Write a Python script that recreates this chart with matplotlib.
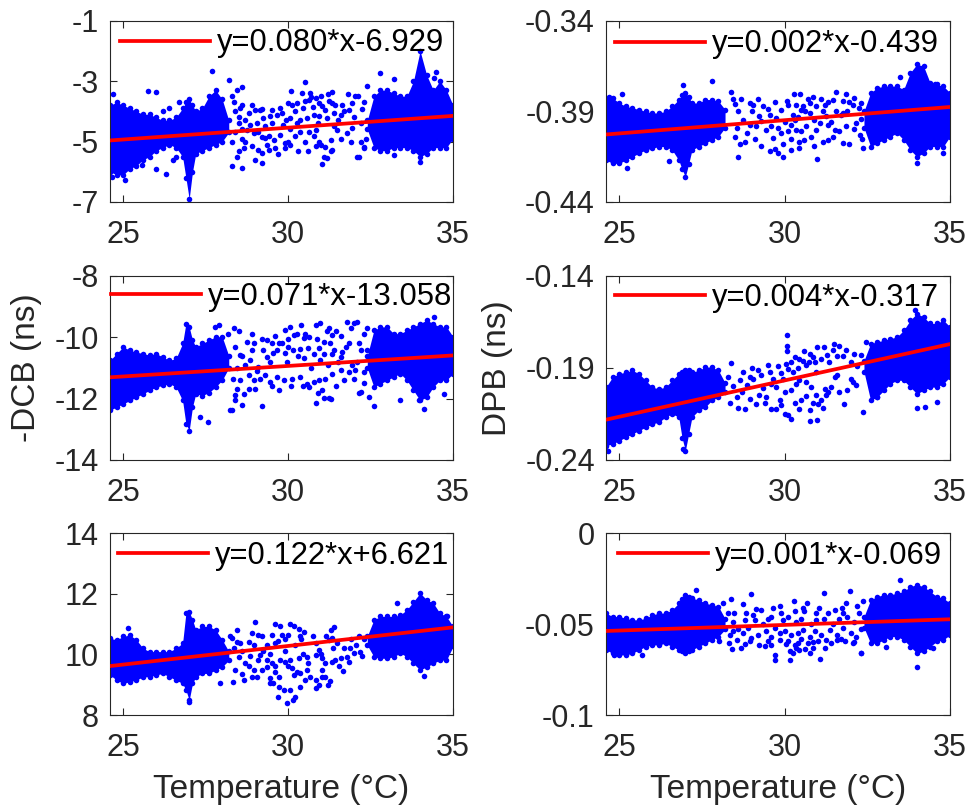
import numpy as np
import matplotlib
matplotlib.use('Agg')
import matplotlib.pyplot as plt

plt.rcParams['font.family'] = ['Liberation Sans', 'DejaVu Sans']

# temperature axis
temp_ticks = [25, 30, 35]
temp_lim = [24.6, 35]
fit_x = [24.65, 35.0]

# x columns of the two dense clusters (cool block = first 21, warm block = rest)
band_x = [24.6, 24.8, 25.0, 25.2, 25.4, 25.6, 25.8, 26.0, 26.2, 26.4, 26.6, 26.8, 26.9, 27.0, 27.1,
          27.2, 27.4, 27.6, 27.8, 28.0, 28.2,
          32.4, 32.6, 32.8, 33.0, 33.2, 33.4, 33.6, 33.8, 34.0, 34.2, 34.4, 34.6, 34.8, 35.0]
n_cool = 21

# ---- top left ----
tl_lo = [-6.0, -6.1, -6.1, -5.9, -5.8, -5.6, -5.5, -5.3, -5.2, -5.1, -5.2, -5.5, -6.2, -6.9, -6.0,
         -5.4, -5.3, -5.2, -5.1, -5.0, -4.7,
         -4.6, -5.2, -5.3, -5.3, -5.2, -5.2, -5.2, -5.3, -5.5, -5.4, -5.2, -5.2, -5.2, -4.9]
tl_hi = [-3.8, -3.7, -3.8, -3.9, -4.0, -4.1, -4.1, -4.2, -4.3, -4.3, -4.2, -3.9, -3.7, -3.6, -3.8,
         -4.0, -3.9, -3.5, -3.3, -3.6, -4.3,
         -4.3, -3.5, -3.3, -3.3, -3.4, -3.5, -3.5, -3.0, -2.0, -2.8, -3.3, -3.0, -3.3, -3.8]
tl_px = [27.70, 28.21, 30.50, 30.10, 30.42, 30.67, 30.70, 31.21, 31.33, 31.81, 32.02, 32.12, 32.40,
         29.15, 29.20, 29.51, 29.76, 29.99, 30.12, 30.27, 30.52, 30.62, 30.83, 30.93, 31.03, 31.13, 31.33, 31.43, 31.64, 31.84, 31.94, 32.24,
         28.80, 29.00, 29.25, 29.46, 29.66, 29.81, 30.07, 30.27, 30.37, 30.57, 30.77, 30.93, 31.18, 31.38, 31.59, 31.94, 31.48, 31.79,
         28.75, 28.95, 29.10, 29.31, 29.41, 29.56, 29.76, 29.91, 30.01, 30.22, 30.37, 30.62, 30.77, 30.93, 31.00, 31.13, 31.30, 31.33, 30.83, 30.07,
         28.65, 29.10, 29.20, 29.41, 29.91, 30.60, 30.83, 31.10, 31.18, 31.30, 32.09, 29.00, 29.20, 28.60, 31.03, 32.29,
         24.70, 32.80, 33.20, 34.47, 34.00, 25.74, 26.00, 34.42, 32.14, 32.30, 33.20, 25.05, 24.65, 26.29, 26.00, 25.56,
         26.20, 26.40, 26.60, 26.50, 26.70, 28.30, 28.40, 28.50, 28.30, 28.50, 28.40, 28.60, 28.60,
         28.55, 28.70, 28.85, 28.60, 28.90, 29.05, 28.70, 28.45, 29.30, 29.50, 29.60, 29.85, 30.20, 30.45,
         30.75, 31.00, 31.25, 31.50, 31.70, 32.00, 32.20, 32.30, 32.35, 32.20, 31.90, 31.60, 30.50, 30.30,
         29.70, 29.35, 28.90, 30.90, 31.40, 30.05, 29.95, 29.20, 28.50, 28.35, 28.45, 28.60, 28.30]
tl_py = [-2.67, -2.98, -3.03, -3.33, -3.41, -3.39, -3.52, -3.42, -3.37, -3.44, -3.50, -3.48, -3.17,
         -3.94, -3.92, -3.94, -3.89, -3.72, -3.78, -3.72, -3.67, -3.61, -3.55, -3.72, -3.83, -3.94, -3.72, -3.78, -3.78, -3.94, -3.72, -3.92,
         -4.05, -3.94, -4.22, -4.17, -4.11, -4.05, -4.22, -4.39, -4.28, -4.22, -4.11, -4.17, -4.22, -4.05, -4.11, -4.55, -4.61, -4.72,
         -4.61, -4.72, -4.67, -4.89, -4.83, -4.94, -4.78, -5.05, -5.00, -4.83, -4.67, -4.67, -4.83, -5.00, -5.11, -5.17, -4.94, -5.28, -4.61, -5.11,
         -5.22, -5.28, -5.39, -5.28, -5.22, -5.31, -5.14, -5.50, -5.55, -5.30, -5.52, -5.61, -5.72, -5.89, -5.74, -5.17,
         -3.42, -2.72, -2.94, -2.70, -5.67, -3.33, -3.37, -2.89, -5.50, -5.22, -5.44, -6.28, -6.17, -6.08, -5.90, -5.78,
         -4.00, -3.90, -5.50, -5.60, -3.70, -3.50, -4.00, -4.40, -5.00, -5.30, -4.70, -3.80, -4.90,
         -3.90, -4.30, -4.45, -4.60, -3.80, -4.40, -5.00, -5.50, -4.50, -4.40, -5.20, -4.45, -4.00, -3.90,
         -3.85, -3.50, -3.65, -4.30, -4.00, -4.20, -4.40, -3.70, -4.90, -5.00, -5.00, -4.90, -5.00, -5.30,
         -5.40, -5.10, -5.15, -4.40, -4.50, -4.60, -4.30, -4.85, -4.20, -3.70, -3.30, -3.20, -5.80]
tl_fit = [-4.96, -4.15]
tl_eq = 'y=0.080*x-6.929'
tl_yticks = [-7, -5, -3, -1]

# ---- top right ----
tr_lo = [-0.4169, -0.4187, -0.4187, -0.4169, -0.4150, -0.4131, -0.4113, -0.4104, -0.4094, -0.4094, -0.4113, -0.4169, -0.4220, -0.4261, -0.4190,
         -0.4113, -0.4094, -0.4076, -0.4057, -0.4039, -0.3990,
         -0.3990, -0.4094, -0.4076, -0.4057, -0.4039, -0.4020, -0.4057, -0.4113, -0.4150, -0.4131, -0.4094, -0.4094, -0.4094, -0.4039]
tr_hi = [-0.3835, -0.3826, -0.3854, -0.3872, -0.3881, -0.3890, -0.3900, -0.3909, -0.3909, -0.3900, -0.3872, -0.3835, -0.3810, -0.3798, -0.3820,
         -0.3854, -0.3854, -0.3835, -0.3835, -0.3844, -0.3890,
         -0.3900, -0.3798, -0.3770, -0.3761, -0.3761, -0.3761, -0.3780, -0.3687, -0.3641, -0.3650, -0.3743, -0.3752, -0.3761, -0.3798]
tr_px = [28.69, 28.94, 29.04, 29.49, 29.90, 30.08, 30.10, 30.35, 30.50, 30.61, 30.76, 30.96, 31.21, 31.31, 31.46, 31.77, 32.07, 32.32, 31.56,
         28.94, 29.14, 29.29, 29.44, 29.60, 29.80, 29.90, 30.10, 30.20, 30.35, 30.50, 30.66, 30.81, 30.96, 31.06, 31.31, 31.52, 31.87, 32.17, 32.27,
         28.79, 29.29, 29.70, 29.80, 29.95, 30.20, 30.45, 30.45, 30.20, 28.59, 30.98, 31.16, 31.31, 31.77, 32.37,
         27.80, 28.38, 30.28, 30.48, 31.56, 31.87, 32.09, 30.71,
         29.24, 29.75, 30.25, 30.76, 31.26, 31.77,
         26.92, 25.25, 26.52, 24.68, 25.08, 34.78, 33.99, 33.48, 34.55,
         28.50, 28.60, 28.75, 28.55, 28.85, 28.65, 29.00, 29.10, 29.35, 29.55, 29.65, 30.00, 30.30,
         30.55, 30.90, 31.15, 31.40, 31.65, 31.90, 32.10, 32.25, 32.35, 31.95, 31.45, 30.90, 30.60,
         29.55, 29.20, 29.70, 30.85, 31.10, 31.70, 28.45, 28.50, 30.40, 29.95, 31.95, 32.30]
tr_py = [-0.3832, -0.3854, -0.3863, -0.3885, -0.3894, -0.3844, -0.3863, -0.3863, -0.3891, -0.3900, -0.3854, -0.3872, -0.3863, -0.3850, -0.3835, -0.3844, -0.3863, -0.3854, -0.3900,
         -0.3974, -0.3983, -0.3956, -0.4002, -0.3983, -0.3993, -0.4020, -0.4011, -0.3974, -0.4002, -0.4011, -0.3983, -0.4039, -0.4002, -0.3965, -0.3974, -0.4002, -0.3983, -0.3965, -0.4030,
         -0.4067, -0.4091, -0.4109, -0.4131, -0.4150, -0.4113, -0.4104, -0.4067, -0.4054, -0.4154, -0.4163, -0.4067, -0.4057, -0.4072, -0.4104,
         -0.3733, -0.3793, -0.3807, -0.3804, -0.3793, -0.3804, -0.3826, -0.3831,
         -0.3928, -0.3937, -0.3919, -0.3910, -0.3928, -0.3910,
         -0.3757, -0.4215, -0.4172, -0.3820, -0.3802, -0.4131, -0.4183, -0.3711, -0.3752,
         -0.3860, -0.3900, -0.3950, -0.3990, -0.4020, -0.4080, -0.3900, -0.4050, -0.3870, -0.3920, -0.4045, -0.3960, -0.3950,
         -0.3870, -0.3950, -0.3900, -0.3960, -0.4010, -0.3900, -0.4000, -0.3880, -0.4050, -0.4080, -0.4040, -0.4090, -0.4060,
         -0.4120, -0.3830, -0.3850, -0.3820, -0.3830, -0.3920, -0.3830, -0.4040, -0.3930, -0.4080, -0.3850, -0.3940]
tr_fit = [-0.4027, -0.3876]
tr_eq = 'y=0.002*x-0.439'
tr_yticks = [-0.44, -0.39, -0.34]

# ---- middle left (-DCB) ----
ml_lo = [-12.38, -12.27, -12.17, -12.06, -11.95, -11.84, -11.73, -11.62, -11.57, -11.51, -11.62, -12.06, -12.82, -13.04, -12.27,
         -11.84, -11.90, -11.80, -11.62, -11.40, -11.00,
         -11.00, -11.62, -11.51, -11.40, -11.29, -11.18, -11.40, -11.73, -12.06, -11.95, -11.62, -11.40, -11.40, -11.18]
ml_hi = [-10.75, -10.53, -10.31, -10.42, -10.48, -10.53, -10.58, -10.53, -10.64, -10.75, -10.69, -10.20, -9.55, -9.66, -10.09,
         -10.31, -10.20, -10.09, -9.98, -9.98, -10.60,
         -10.60, -9.77, -9.66, -9.66, -9.88, -9.88, -9.77, -9.66, -9.55, -9.44, -9.55, -9.66, -9.66, -9.98]
ml_px = [27.89, 27.79, 28.50, 28.19, 30.07, 30.83, 30.98, 31.79, 32.01, 32.09, 32.40, 31.18, 31.23,
         28.75, 28.95, 29.20, 29.36, 29.51, 29.71, 29.81, 30.01, 30.17, 30.27, 30.47, 30.52, 30.62, 30.88, 31.08, 31.28, 31.59, 31.33,
         30.37, 29.66, 30.01, 30.77, 31.08, 31.33, 31.64, 31.84, 32.14, 32.40,
         28.34, 28.55, 28.80, 28.95, 29.15, 29.31, 29.46, 29.66, 29.86, 30.12, 30.37, 30.57, 30.77, 30.93, 31.13, 31.33, 31.59, 31.84, 32.04, 32.29,
         29.71, 28.80, 28.44, 28.65, 30.62, 31.03, 31.99, 28.39, 28.39, 28.29, 29.20, 30.83, 31.10, 31.23, 31.30,
         28.85, 29.36, 29.96, 30.47, 30.98, 31.59, 32.09, 28.55, 29.10,
         34.42, 33.97, 34.12, 32.45, 32.60, 33.40, 34.73, 32.20, 28.24, 27.58, 27.33,
         28.40, 28.60, 28.70, 28.45, 28.90, 29.05, 29.25, 29.45, 29.55, 29.90, 30.15, 30.30, 30.60,
         30.70, 30.95, 31.20, 31.40, 31.50, 31.75, 31.95, 32.20, 32.30, 32.15, 31.70, 31.45, 30.90, 30.45,
         30.10, 29.50, 29.00, 28.60, 29.90, 30.40, 31.45, 29.60, 28.90, 28.35, 32.30, 31.90]
ml_py = [-9.60, -9.66, -9.80, -9.88, -9.66, -9.60, -9.53, -9.49, -9.53, -9.50, -9.68, -9.79, -9.71,
         -10.15, -10.20, -10.07, -10.09, -10.18, -10.20, -10.20, -10.04, -9.93, -9.88, -10.01, -9.88, -9.98, -10.04, -10.15, -10.20, -9.96, -9.93,
         -10.37, -10.42, -10.31, -10.53, -10.53, -10.53, -10.48, -10.20, -10.20, -10.42,
         -11.35, -11.40, -11.24, -11.40, -11.35, -11.24, -11.46, -11.31, -11.40, -11.35, -11.29, -11.51, -11.46, -11.40, -11.35, -11.18, -11.08, -11.13, -11.08, -11.13,
         -11.73, -11.67, -11.67, -11.86, -11.62, -11.71, -11.35, -11.89, -12.06, -12.36, -12.24, -12.14, -11.99, -11.99, -12.00,
         -10.75, -10.64, -10.80, -10.69, -10.75, -10.64, -10.80, -10.58, -10.97,
         -9.35, -12.06, -12.33, -11.95, -12.25, -12.06, -11.84, -11.78, -12.36, -12.77, -12.60,
         -10.30, -10.60, -10.90, -11.00, -10.40, -11.10, -10.40, -10.80, -10.50, -10.50, -10.40, -10.60, -10.35,
         -11.00, -10.35, -10.90, -10.40, -10.80, -10.30, -10.90, -10.40, -11.50, -11.80, -11.40, -11.60, -11.80, -11.60,
         -11.60, -11.60, -11.70, -12.20, -9.75, -9.60, -9.80, -9.95, -9.90, -9.70, -9.90, -9.70]
ml_fit = [-11.30, -10.59]
ml_eq = 'y=0.071*x-13.058'
ml_yticks = [-14, -12, -10, -8]

# ---- middle right (DPB) ----
mr_lo = [-0.2322, -0.2313, -0.2295, -0.2276, -0.2258, -0.2240, -0.2222, -0.2204, -0.2195, -0.2167, -0.2149, -0.2167, -0.2280, -0.2349, -0.2258,
         -0.2167, -0.2131, -0.2113, -0.2076, -0.2058, -0.2030,
         -0.1920, -0.2076, -0.2058, -0.2022, -0.1985, -0.1967, -0.1967, -0.2004, -0.2040, -0.2022, -0.2004, -0.2004, -0.1985, -0.1949]
mr_hi = [-0.2004, -0.1949, -0.1931, -0.1922, -0.1913, -0.1931, -0.1967, -0.2004, -0.2013, -0.2004, -0.1967, -0.1931, -0.1920, -0.1913, -0.1913,
         -0.1922, -0.1913, -0.1895, -0.1895, -0.1913, -0.1980,
         -0.1860, -0.1767, -0.1758, -0.1749, -0.1740, -0.1731, -0.1695, -0.1640, -0.1604, -0.1622, -0.1658, -0.1658, -0.1640, -0.1676]
mr_px = [28.38, 29.49, 29.19, 28.74, 28.94, 28.64, 29.90, 30.10, 30.20, 30.30, 30.45, 30.56, 30.66, 30.76, 30.86, 30.91, 30.98, 31.18, 31.29, 31.49, 31.57, 31.77, 32.09, 30.08, 30.08, 30.08,
         29.60, 29.75, 30.00, 30.20, 30.35, 30.45, 30.66, 30.81, 30.96, 31.21, 31.31, 31.41, 31.51,
         29.60, 29.75, 29.85, 30.00, 30.10, 30.20, 30.45, 30.50, 30.76, 30.86, 31.01, 31.11, 31.26, 31.79, 30.76, 30.98,
         32.37, 29.14, 28.79, 29.24, 29.44, 32.02, 32.07, 31.57,
         33.94, 33.99, 34.24, 34.60, 32.78, 32.47, 24.65, 26.92,
         28.30, 28.45, 28.55, 28.35, 28.70, 28.85, 28.95, 29.05, 29.30, 29.35, 29.55, 29.65, 29.80,
         29.95, 30.05, 30.25, 30.40, 30.60, 30.75, 30.95, 31.10, 31.35, 31.45, 31.65, 31.85, 32.00,
         32.20, 32.30, 32.15, 31.90, 31.65, 31.15, 30.65, 30.30, 29.90, 29.40, 28.60, 29.00]
mr_py = [-0.1873, -0.1886, -0.1909, -0.1922, -0.1949, -0.1967, -0.1927, -0.1904, -0.1867, -0.1840, -0.1849, -0.1864, -0.1886, -0.1822, -0.1840, -0.1867, -0.1786, -0.1786, -0.1831, -0.1767, -0.1836, -0.1836, -0.1822, -0.1718, -0.1782, -0.1807,
         -0.1986, -0.2004, -0.2031, -0.2022, -0.1986, -0.1967, -0.1976, -0.2004, -0.2049, -0.2013, -0.2031, -0.2004, -0.1949,
         -0.2122, -0.2122, -0.2076, -0.2149, -0.2158, -0.2176, -0.2122, -0.2076, -0.2131, -0.2091, -0.2095, -0.2076, -0.2049, -0.2098, -0.2186, -0.2182,
         -0.2140, -0.2095, -0.2122, -0.2049, -0.2058, -0.1958, -0.1976, -0.1940,
         -0.1585, -0.2116, -0.2113, -0.2085, -0.2058, -0.1758, -0.2349, -0.2340,
         -0.1950, -0.2000, -0.2060, -0.2090, -0.2030, -0.1990, -0.2070, -0.1960, -0.1940, -0.2010, -0.1920, -0.1960, -0.1890,
         -0.1960, -0.1880, -0.1920, -0.1900, -0.1810, -0.1870, -0.1920, -0.1850, -0.1870, -0.1800, -0.1780, -0.1800, -0.1870,
         -0.1890, -0.1830, -0.1990, -0.2020, -0.2030, -0.2120, -0.2050, -0.2090, -0.2100, -0.2090, -0.2120, -0.1900]
mr_fit = [-0.2179, -0.1770]
mr_eq = 'y=0.004*x-0.317'
mr_yticks = [-0.24, -0.19, -0.14]

# ---- bottom left ----
bl_lo = [9.32, 9.15, 9.04, 9.10, 9.15, 9.26, 9.26, 9.32, 9.37, 9.26, 9.15, 9.04, 8.82, 8.49, 9.04,
         9.26, 9.37, 9.37, 9.48, 9.59, 9.80,
         10.30, 9.92, 9.87, 9.87, 9.92, 10.04, 9.92, 9.70, 9.48, 9.59, 9.70, 9.81, 9.81, 10.26]
bl_hi = [10.53, 10.48, 10.59, 10.64, 10.48, 10.20, 10.09, 10.09, 10.09, 10.09, 10.20, 10.37, 11.36, 11.41, 11.14,
         10.81, 10.92, 10.92, 10.81, 10.48, 10.10,
         10.60, 11.14, 11.25, 11.25, 11.25, 11.30, 11.47, 11.74, 12.02, 11.80, 11.69, 11.36, 11.25, 10.92]
bl_px = [29.00, 29.61, 29.76, 30.06, 30.17, 30.32, 30.47, 31.31, 31.40, 28.90, 29.10, 29.20, 29.51, 29.81, 29.91, 30.01, 30.37, 28.44, 28.55, 28.80, 29.36, 29.61, 30.83, 31.23, 31.48, 31.33, 27.94, 27.89, 28.29,
         28.85, 29.15, 29.36, 29.51, 29.76, 30.07, 30.32, 30.57, 30.83, 30.93, 31.03, 31.13, 31.33, 31.43, 31.59, 31.79, 31.89, 31.99, 32.17,
         29.20, 29.36, 29.61, 28.95, 28.90, 29.05, 29.46, 29.71, 29.91, 30.12, 30.27, 30.17, 30.37, 30.57, 30.67, 30.83, 31.03, 31.03, 31.13, 31.28,
         30.83, 30.93, 29.71, 29.86, 30.07, 30.22, 30.37, 29.69, 29.46, 27.94, 28.34, 28.65, 29.98, 30.16,
         34.12, 25.15, 33.31, 34.83, 26.98,
         28.35, 28.50, 28.60, 28.70, 28.40, 28.80, 28.95, 29.10, 29.25, 29.45, 29.60, 29.90, 30.00,
         30.20, 30.45, 30.60, 30.75, 31.00, 31.15, 31.35, 31.55, 31.70, 31.85, 32.05, 32.25, 32.30,
         31.65, 31.20, 30.50, 29.55, 28.60, 30.40, 29.70, 31.90, 32.15, 28.25, 28.45]
bl_py = [11.06, 10.99, 10.92, 10.99, 10.94, 10.83, 10.75, 10.81, 10.89, 10.70, 10.64, 10.59, 10.64, 10.64, 10.50, 10.64, 10.59, 10.42, 10.37, 10.42, 10.31, 10.37, 10.37, 10.48, 10.37, 10.53, 10.48, 10.31, 10.53,
         9.95, 9.98, 9.82, 9.71, 9.82, 9.82, 9.87, 9.92, 9.98, 10.15, 9.87, 9.71, 9.76, 9.82, 9.87, 9.92, 10.20, 10.03, 10.09,
         9.48, 9.59, 9.43, 9.48, 9.26, 9.26, 9.21, 9.26, 9.76, 9.54, 9.43, 9.32, 9.37, 9.48, 9.26, 9.15, 9.48, 9.26, 9.24, 9.13,
         8.88, 8.99, 8.93, 8.82, 8.82, 8.58, 8.93, 8.58, 9.04, 9.04, 9.10, 9.15, 8.41, 8.50,
         9.30, 10.86, 11.69, 11.25, 8.44,
         10.20, 9.90, 10.10, 9.70, 9.50, 9.60, 10.30, 9.80, 10.10, 10.00, 9.60, 10.10, 9.60,
         10.30, 10.00, 9.70, 10.60, 10.00, 10.60, 10.20, 9.60, 10.20, 9.75, 10.30, 9.95, 10.50,
         9.45, 9.00, 9.15, 9.05, 9.35, 10.50, 10.45, 10.50, 10.60, 10.60, 10.80]
bl_fit = [9.62, 10.89]
bl_eq = 'y=0.122*x+6.621'
bl_yticks = [8, 10, 12, 14]

# ---- bottom right ----
br_lo = [-0.0642, -0.0661, -0.0670, -0.0670, -0.0661, -0.0642, -0.0624, -0.0615, -0.0615, -0.0606, -0.0624, -0.0642, -0.0650, -0.0661, -0.0650,
         -0.0642, -0.0624, -0.0606, -0.0587, -0.0569, -0.0530,
         -0.0520, -0.0606, -0.0606, -0.0587, -0.0569, -0.0569, -0.0587, -0.0624, -0.0661, -0.0651, -0.0624, -0.0596, -0.0587, -0.0560]
br_hi = [-0.0440, -0.0459, -0.0459, -0.0468, -0.0477, -0.0477, -0.0468, -0.0450, -0.0440, -0.0440, -0.0422, -0.0385, -0.0360, -0.0339, -0.0350,
         -0.0358, -0.0367, -0.0385, -0.0394, -0.0404, -0.0470,
         -0.0460, -0.0367, -0.0349, -0.0339, -0.0339, -0.0330, -0.0321, -0.0294, -0.0284, -0.0294, -0.0321, -0.0349, -0.0358, -0.0385]
br_px = [28.99, 28.74, 28.38, 28.13, 29.87, 30.28, 30.68, 31.19, 31.99, 31.87, 32.37, 31.51, 31.31, 31.77, 30.96, 30.56, 30.30, 29.90, 29.60, 29.29, 29.04, 28.84, 28.48,
         28.43, 28.74, 28.99, 29.19, 29.44, 29.60, 29.85, 30.00, 30.20, 30.40, 30.56, 30.76, 30.91, 31.11, 31.36, 31.57, 31.77, 32.02, 32.17,
         28.69, 28.94, 29.24, 29.49, 29.60, 29.85, 30.10, 30.30, 30.15, 30.35, 30.40, 30.61, 30.71, 30.86, 31.01, 31.21, 31.41, 31.57, 31.82, 32.07,
         29.70, 29.70, 30.15, 30.25, 30.45, 30.76, 31.06, 32.32, 28.33, 28.03,
         33.48, 33.99, 34.49, 27.32, 24.85, 25.70, 32.32, 33.08,
         28.30, 28.45, 28.60, 28.35, 28.55, 28.80, 28.90, 29.10, 29.35, 29.50, 29.70, 29.95, 30.10,
         30.35, 30.50, 30.80, 30.95, 31.20, 31.45, 31.65, 31.90, 32.10, 32.25, 32.30, 32.10, 31.70,
         31.25, 30.85, 30.50, 30.05, 29.40, 28.80, 28.40, 29.15, 29.65, 30.60, 31.05, 31.75, 32.20]
br_py = [-0.0334, -0.0389, -0.0363, -0.0385, -0.0400, -0.0376, -0.0385, -0.0327, -0.0321, -0.0385, -0.0376, -0.0422, -0.0437, -0.0437, -0.0440, -0.0413, -0.0431, -0.0440, -0.0459, -0.0422, -0.0450, -0.0440, -0.0440,
         -0.0541, -0.0550, -0.0578, -0.0560, -0.0541, -0.0569, -0.0550, -0.0541, -0.0560, -0.0550, -0.0532, -0.0569, -0.0541, -0.0560, -0.0532, -0.0560, -0.0523, -0.0550, -0.0569,
         -0.0633, -0.0596, -0.0615, -0.0596, -0.0615, -0.0587, -0.0596, -0.0615, -0.0651, -0.0633, -0.0602, -0.0639, -0.0606, -0.0633, -0.0596, -0.0633, -0.0606, -0.0587, -0.0596, -0.0606,
         -0.0670, -0.0697, -0.0697, -0.0661, -0.0642, -0.0661, -0.0694, -0.0657, -0.0606, -0.0596,
         -0.0257, -0.0734, -0.0633, -0.0312, -0.0670, -0.0670, -0.0657, -0.0624,
         -0.0440, -0.0490, -0.0530, -0.0560, -0.0590, -0.0480, -0.0520, -0.0480, -0.0500, -0.0470, -0.0520, -0.0480, -0.0460,
         -0.0490, -0.0470, -0.0500, -0.0480, -0.0470, -0.0500, -0.0470, -0.0460, -0.0490, -0.0440, -0.0530, -0.0600, -0.0580,
         -0.0590, -0.0600, -0.0580, -0.0610, -0.0620, -0.0610, -0.0640, -0.0420, -0.0410, -0.0430, -0.0410, -0.0410, -0.0400]
br_fit = [-0.0538, -0.0474]
br_eq = 'y=0.001*x-0.069'
br_yticks = [-0.1, -0.05, 0]

panels = [
    (tl_lo, tl_hi, tl_px, tl_py, tl_fit, tl_eq, tl_yticks, '', ''),
    (tr_lo, tr_hi, tr_px, tr_py, tr_fit, tr_eq, tr_yticks, '', ''),
    (ml_lo, ml_hi, ml_px, ml_py, ml_fit, ml_eq, ml_yticks, '-DCB (ns)', ''),
    (mr_lo, mr_hi, mr_px, mr_py, mr_fit, mr_eq, mr_yticks, 'DPB (ns)', ''),
    (bl_lo, bl_hi, bl_px, bl_py, bl_fit, bl_eq, bl_yticks, '', 'Temperature (\u00b0C)'),
    (br_lo, br_hi, br_px, br_py, br_fit, br_eq, br_yticks, '', 'Temperature (\u00b0C)'),
]

# axes rectangles in figure fraction (MATLAB subplot layout)
rects = [
    [0.1139, 0.7497, 0.3551, 0.2247], [0.6273, 0.7497, 0.3561, 0.2247],
    [0.1139, 0.4300, 0.3551, 0.2280], [0.6273, 0.4300, 0.3561, 0.2280],
    [0.1139, 0.1140, 0.3551, 0.2255], [0.6273, 0.1140, 0.3561, 0.2255],
]
# legend anchor nudges (pixels right, pixels up)
leg_shift = [(2, 3), (0, 2), (10, 5), (0, 4), (7, 3), (3, 3)]

ink = (0.15, 0.15, 0.15)
fig = plt.figure(figsize=(9.66, 8.07), dpi=100)

bx = np.array(band_x)
for rect, shift, (lo, hi, px, py, fit, eq, yt, ylab, xlab) in zip(rects, leg_shift, panels):
    ax = fig.add_axes(rect)
    lo = np.array(lo)
    hi = np.array(hi)
    for sl in (slice(0, n_cool), slice(n_cool, None)):
        ax.fill_between(bx[sl], lo[sl], hi[sl], color='blue', lw=0, zorder=2)
    ax.plot(bx, lo, 'o', color='blue', ms=4, mew=0, zorder=2)
    ax.plot(bx, hi, 'o', color='blue', ms=4, mew=0, zorder=2)
    ax.plot(px, py, 'o', color='blue', ms=4, mew=0, zorder=2)
    ax.plot(fit_x, fit, '-', color='red', lw=2.7, label=eq, zorder=3)

    ax.set_xlim(temp_lim)
    ax.set_ylim(yt[0], yt[-1])
    ax.set_xticks(temp_ticks)
    ax.set_xticklabels([str(t) for t in temp_ticks])
    ax.set_yticks(yt)
    ax.set_yticklabels(['%g' % t for t in yt])
    ax.tick_params(direction='in', length=5, width=0.8, top=True, right=True,
                   labelsize=22, colors=ink)
    ax.tick_params(axis='x', pad=13)
    ax.tick_params(axis='y', pad=8)
    for s in ax.spines.values():
        s.set_color(ink)
        s.set_linewidth(0.8)
    if ylab:
        ax.set_ylabel(ylab, fontsize=24, color=ink, labelpad=9)
    if xlab:
        ax.set_xlabel(xlab, fontsize=24, color=ink, labelpad=8)
    w_px = rect[2] * 966
    h_px = rect[3] * 807
    ax.legend(loc='upper right', frameon=False, fontsize=22.3, handlelength=2.9,
              handletextpad=0.22, borderpad=0.1, borderaxespad=0.25,
              bbox_to_anchor=(1 + shift[0] / w_px, 1 + shift[1] / h_px),
              labelcolor='black')

fig.savefig('out.png', dpi=100)
